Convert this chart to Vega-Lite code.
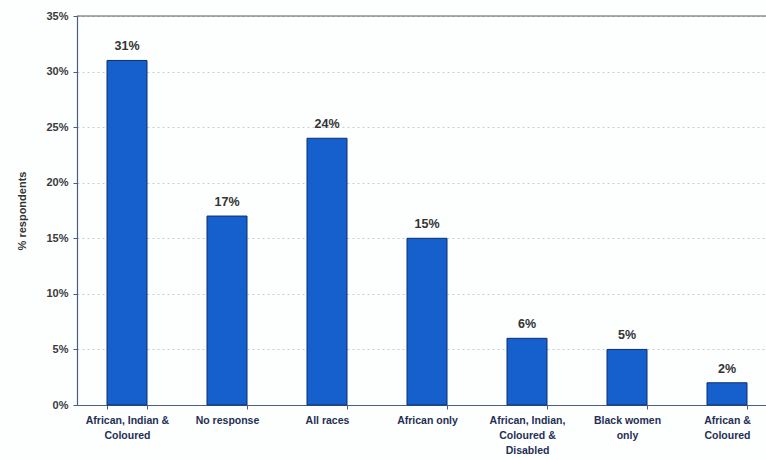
{
  "$schema": "https://vega.github.io/schema/vega-lite/v6.json",
  "autosize": "none",
  "width": 700,
  "height": 389,
  "padding": {"left": 77, "top": 16, "right": 0, "bottom": 55},
  "background": "#fdfefe",
  "config": {
    "font": "Liberation Sans",
    "view": {"stroke": null}
  },
  "data": {
    "values": [
      {"category": "African, Indian &|Coloured", "share": 0.31},
      {"category": "No response", "share": 0.17},
      {"category": "All races", "share": 0.24},
      {"category": "African only", "share": 0.15},
      {"category": "African, Indian,|Coloured &|Disabled", "share": 0.06},
      {"category": "Black women|only", "share": 0.05},
      {"category": "African &|Coloured", "share": 0.02}
    ]
  },
  "encoding": {
    "x": {
      "field": "category",
      "type": "nominal",
      "sort": null,
      "scale": {"paddingInner": 0.6, "paddingOuter": 0.3},
      "axis": {
        "title": null,
        "labelAngle": 0,
        "labelExpr": "isString(datum.value) ? split(datum.value, '|') : ''",
        "labelFont": "Liberation Sans",
        "labelFontWeight": "bold",
        "labelFontSize": 10.5,
        "labelColor": "#1f2f55",
        "labelLineHeight": 15,
        "labelPadding": 6,
        "tickBand": "extent",
        "tickSize": 4,
        "tickColor": "#4a5f80",
        "domainColor": "#4a5f80",
        "domainWidth": 1.2
      }
    },
    "y": {
      "field": "share",
      "type": "quantitative",
      "scale": {"domain": [0, 0.35]},
      "axis": {
        "title": "% respondents",
        "titleFont": "Liberation Sans",
        "titleFontWeight": "bold",
        "titleFontSize": 11,
        "titleColor": "#333333",
        "titlePadding": 18,
        "values": [0, 0.05, 0.1, 0.15, 0.2, 0.25, 0.3, 0.35],
        "format": ".0%",
        "labelFontWeight": "bold",
        "labelFontSize": 11,
        "labelColor": "#3a3a3a",
        "labelPadding": 5,
        "tickSize": 4,
        "tickColor": "#4a5f80",
        "domainColor": "#4a5f80",
        "domainWidth": 1.2,
        "grid": true,
        "gridColor": "#c8ccd4",
        "gridDash": [2, 3],
        "gridWidth": 1
      }
    }
  },
  "layer": [
    {
      "mark": {"type": "bar", "color": "#1560cc", "stroke": "#0c2f6e", "strokeWidth": 1}
    },
    {
      "mark": {"type": "text", "dy": -14, "fontWeight": "bold", "fontSize": 12.5, "color": "#333333", "font": "Liberation Sans"},
      "encoding": {"text": {"field": "share", "type": "quantitative", "format": ".0%"}}
    },
    {
      "data": {"values": [{"top": 0.35}]},
      "mark": {"type": "rule", "color": "#555c66", "strokeWidth": 1.2},
      "encoding": {"x": null, "y": {"field": "top", "type": "quantitative"}}
    }
  ]
}
